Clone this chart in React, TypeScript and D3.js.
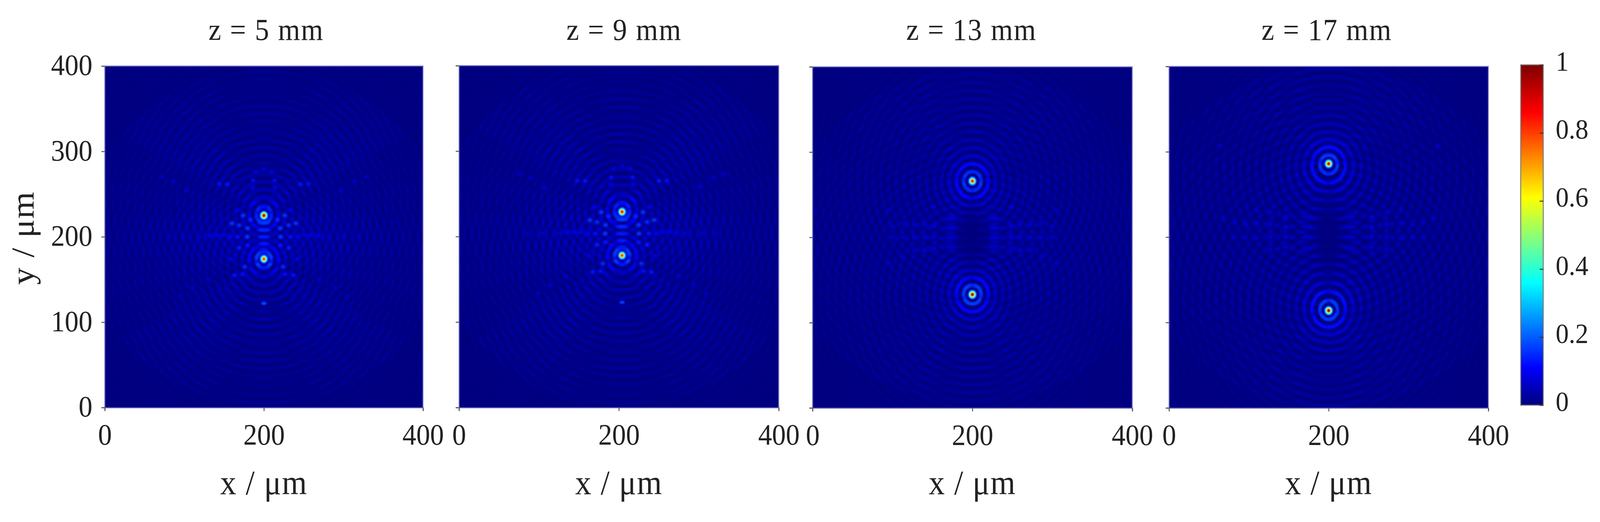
import React, { useEffect, useRef } from 'react';
import * as d3 from 'd3';

const titles = ['z = 5 mm', 'z = 9 mm', 'z = 13 mm', 'z = 17 mm'];
const yTicks = [0, 100, 200, 300, 400];
const xTicks = [0, 200, 400];
const barTicks = [0, 0.2, 0.4, 0.6, 0.8, 1];

// jet stops
const jetStops = [0, 0.11, 0.36, 0.61, 0.86, 1];
const jetColors = ['#00007f', '#0000ff', '#00ffff', '#ffff00', '#ff0000', '#7f0000'];

// focus centres [x, y, peak] in um
const foci5 = [[200, 225, 0.95], [200, 174, 0.8]];
const foci9 = [[204, 229, 0.85], [204, 178, 0.8]];
const foci13 = [[200, 266, 0.85], [200, 133, 0.95]];
const foci17 = [[200, 286, 0.92], [200, 114, 0.97]];

// rings around a focus [radius um, level]
const rings5 = [[9.5, 0.17], [18.5, 0.105], [27.5, 0.08], [36.5, 0.068], [45.5, 0.065], [54.5, 0.063], [63.5, 0.062], [72.5, 0.061], [81.5, 0.06], [90.5, 0.059], [99.5, 0.058], [108.5, 0.056], [117.5, 0.054], [126.5, 0.052], [135.5, 0.05], [144.5, 0.049], [153.5, 0.048], [162.5, 0.047], [171.5, 0.046], [180.5, 0.045], [189.5, 0.044], [198.5, 0.042], [207.5, 0.04], [216.5, 0.038], [225.5, 0.036], [234.5, 0.034], [243.5, 0.032]];
const rings9 = [[9.5, 0.17], [18.5, 0.105], [27.8, 0.08], [37, 0.068], [46.2, 0.065], [55.4, 0.063], [64.6, 0.062], [73.8, 0.061], [83, 0.06], [92.2, 0.059], [101.4, 0.058], [110.6, 0.056], [119.8, 0.054], [129, 0.052], [138.2, 0.05], [147.4, 0.049], [156.6, 0.048], [165.8, 0.047], [175, 0.046], [184.2, 0.045], [193.4, 0.044], [202.6, 0.042], [211.8, 0.04], [221, 0.038], [230.2, 0.036], [239.4, 0.034], [248.6, 0.032]];
const rings13 = [[11, 0.17], [20, 0.115], [29, 0.085], [38.5, 0.072], [47.5, 0.065], [57.5, 0.06], [67, 0.057], [76.5, 0.055], [86, 0.054], [95.5, 0.053], [105, 0.052], [114.5, 0.051], [124, 0.05], [133.5, 0.049], [143, 0.048], [152.5, 0.047], [162, 0.046], [171.5, 0.045], [181, 0.044], [190.5, 0.043], [200, 0.042], [209.5, 0.041], [219, 0.04], [228.5, 0.039], [238, 0.037], [247.5, 0.035], [257, 0.032]];
const rings17 = [[11, 0.17], [21, 0.12], [31, 0.09], [41, 0.075], [51, 0.068], [61, 0.062], [71, 0.058], [81, 0.056], [91, 0.055], [101, 0.054], [111, 0.053], [121, 0.052], [131, 0.05], [141, 0.049], [151, 0.048], [161, 0.047], [171, 0.046], [181, 0.045], [191, 0.044], [201, 0.043], [211, 0.042], [221, 0.041], [231, 0.04], [241, 0.038], [251, 0.035], [261, 0.032]];

// brightness of each 15 degree sector, counter-clockwise from +x for the upper focus
const gains5 = [0.85, 0.7, 1, 1, 0.85, 0.7, 0.8, 0.7, 0.85, 1, 1, 0.7, 0.85, 1, 1, 1, 0.9, 0.85, 0.9, 0.85, 0.9, 1, 1, 1];
const gains9 = [0.85, 0.7, 1, 1, 0.85, 0.7, 0.8, 0.7, 0.85, 1, 1, 0.7, 0.85, 1, 1, 1, 0.9, 0.85, 0.9, 0.85, 0.9, 1, 1, 1];
const gains13 = [0.95, 0.85, 0.95, 1, 1, 1, 1, 1, 1, 1, 0.95, 0.85, 0.95, 1, 1, 1, 1, 0.95, 0.8, 0.95, 1, 1, 1, 1];
const gains17 = [0.95, 0.85, 0.95, 1, 1, 1, 1, 1, 1, 1, 0.95, 0.85, 0.95, 1, 1, 1, 1, 0.95, 0.8, 0.95, 1, 1, 1, 1];

// how far rings lean away from the centre line, per um of radius
const drifts = [0.1, 0.1, 0, -0.08];

// where the bead pattern is centred in each panel [x, y]
const centres = [[200, 200], [204, 203.5], [200, 200], [200, 200]];

// bright beads, drawn on both sides of the centre [offset x, offset y, level]
const beadsNear = [
  [20.6, 10, 0.17], [21, 0, 0.17], [17, 20, 0.15], [26, 25, 0.17], [31, 13.5, 0.16], [40, 15.7, 0.17], [51, 2, 0.1], [60, 2, 0.11], [69, 1, 0.1],
  [33, 0, 0.12], [42, 0, 0.11], [80, 0, 0.075], [100, 0, 0.07], [118, 0, 0.06], [31, -13, 0.14], [20.6, -10, 0.13], [24, -35, 0.16], [41, -26, 0.1],
  [18, -27, 0.1], [27, -44, 0.12], [37, -45, 0.13], [46, 61.5, 0.13], [56, 62, 0.12], [13.5, 66, 0.12], [10, 76, 0.1], [14, 57.7, 0.1],
  [33.5, 31, 0.11], [97, 54, 0.075], [114, 65, 0.07], [128, 70, 0.065], [70, -50, 0.07], [90, -60, 0.07], [105, -70, 0.06], [0, 79, 0.08],
];
const beads13 = [
  [48, 35, 0.085], [48, 13, 0.09], [48, 0, 0.09], [60, 15, 0.085], [60, 0, 0.085], [73, 15, 0.08], [73, 0, 0.08], [86, 16, 0.075], [86, 0, 0.07],
  [100, 13, 0.07], [100, 0, 0.065], [48, -13, 0.085], [60, -15, 0.08], [73, -15, 0.075], [88, -22, 0.07], [105, -30, 0.065], [105, 32, 0.065],
];
const beads17 = [
  [54, 24, 0.09], [54, 12, 0.095], [54, 0, 0.09], [54, -12, 0.08], [73, 29, 0.08], [73, 15, 0.085], [73, 0, 0.08], [73, -14, 0.07], [90, 31, 0.07],
  [90, 16, 0.08], [90, -1, 0.07], [104, 15, 0.075], [104, 0, 0.07], [118, 17, 0.07], [118, 0, 0.065], [132, 22, 0.075], [136, 107, 0.07],
];

// flat bars across the middle [half width, offset y, level]
const barsNear = [[8, 16.5, 0.17], [8, 8, 0.15], [8, 0, 0.14], [7, -8, 0.13], [6, -15, 0.12]];
const bars13 = [[7, 22, 0.08], [7, 10.7, 0.08], [7, -0.5, 0.08], [7, -11, 0.07]];
const bars17 = [[8, 24, 0.07], [8, 12, 0.07], [8, 0, 0.065], [8, -13, 0.065]];

// faint side lobes [x, y, level] and dark areas [x, y, rx, ry]
const lobes5 = [[200, 122, 0.17]];
const lobes9 = [[204, 123, 0.16]];
const lobes13: number[][] = [];
const lobes17: number[][] = [];
const dark5: number[][] = [];
const dark9: number[][] = [];
const dark13 = [[200, 200, 18, 26]];
const dark17 = [[200, 200, 14, 30]];

// spot profile outer to inner [radius um, fraction of peak]
const spotRadii = [6, 5, 4.3, 3.6, 3, 2.4, 1.8];
const spotLevels = [0.14, 0.25, 0.36, 0.48, 0.62, 0.8, 1];

const panelData = [
  { title: titles[0], foci: foci5, rings: rings5, gains: gains5, drift: drifts[0], lobes: lobes5, dark: dark5, beads: beadsNear, bars: barsNear, centre: centres[0] },
  { title: titles[1], foci: foci9, rings: rings9, gains: gains9, drift: drifts[1], lobes: lobes9, dark: dark9, beads: beadsNear, bars: barsNear, centre: centres[1] },
  { title: titles[2], foci: foci13, rings: rings13, gains: gains13, drift: drifts[2], lobes: lobes13, dark: dark13, beads: beads13, bars: bars13, centre: centres[2] },
  { title: titles[3], foci: foci17, rings: rings17, gains: gains17, drift: drifts[3], lobes: lobes17, dark: dark17, beads: beads17, bars: bars17, centre: centres[3] },
];

const boxes = [
  { left: 288, right: 1163, top: 169, bottom: 1043, titleX: 732 },
  { left: 1262, right: 2141, top: 168, bottom: 1043, titleX: 1716 },
  { left: 2234, right: 3113, top: 171, bottom: 1044, titleX: 2671 },
  { left: 3214, right: 4092, top: 170, bottom: 1044, titleX: 3648 },
];

const WIDTH = 4399;
const HEIGHT = 1336;
const FONT = '"Liberation Serif", serif';
const TEXT = '#222';

const jet = d3.scaleLinear<string>().domain(jetStops).range(jetColors).clamp(true);
const alpha = d3.scaleLinear().domain([0, 0.11]).range([0, 1]).clamp(true);

const draw = (node: SVGSVGElement) => {
  const svg = d3.select(node);
  svg.selectAll('*').remove();
  const defs = svg.append('defs');

  defs
    .append('filter')
    .attr('id', 'soft')
    .attr('x', '-50%')
    .attr('y', '-50%')
    .attr('width', '200%')
    .attr('height', '200%')
    .append('feGaussianBlur')
    .attr('stdDeviation', 1.3);
  defs
    .append('filter')
    .attr('id', 'bead')
    .attr('x', '-80%')
    .attr('y', '-80%')
    .attr('width', '260%')
    .attr('height', '260%')
    .append('feGaussianBlur')
    .attr('stdDeviation', 2.6);
  defs
    .append('filter')
    .attr('id', 'patch')
    .attr('x', '-80%')
    .attr('y', '-80%')
    .attr('width', '260%')
    .attr('height', '260%')
    .append('feGaussianBlur')
    .attr('stdDeviation', 14);

  panelData.forEach((p, i) => {
    const box = boxes[i];
    const x = d3.scaleLinear().domain([0, 400]).range([box.left, box.right]);
    const y = d3.scaleLinear().domain([0, 400]).range([box.bottom, box.top]);
    const size = d3.scaleLinear().domain([0, 400]).range([0, box.right - box.left]);

    defs
      .append('clipPath')
      .attr('id', `clip${i}`)
      .append('rect')
      .attr('x', box.left)
      .attr('y', box.top)
      .attr('width', box.right - box.left)
      .attr('height', box.bottom - box.top);

    const filter = defs
      .append('filter')
      .attr('id', `ripple${i}`)
      .attr('filterUnits', 'userSpaceOnUse')
      .attr('color-interpolation-filters', 'sRGB')
      .attr('x', box.left)
      .attr('y', box.top)
      .attr('width', box.right - box.left)
      .attr('height', box.bottom - box.top);
    filter.append('feGaussianBlur').attr('stdDeviation', 2.2);
    filter
      .append('feComponentTransfer')
      .append('feFuncA')
      .attr('type', 'gamma')
      .attr('amplitude', 1)
      .attr('exponent', 3);

    const g = svg.append('g');
    const plot = g.append('g').attr('clip-path', `url(#clip${i})`);
    plot
      .append('rect')
      .attr('x', box.left)
      .attr('y', box.top)
      .attr('width', box.right - box.left)
      .attr('height', box.bottom - box.top)
      .attr('fill', jet(0));

    const ripple = plot.append('g').attr('filter', `url(#ripple${i})`);
    const arc = d3.arc();
    const step = (2 * Math.PI) / p.gains.length;
    p.foci.forEach(([fx, fy], k) => {
      const dir = k === 0 ? 1 : -1;
      p.rings.forEach(([r, level]) => {
        p.gains.forEach((gain, s) => {
          const theta = dir > 0 ? s * step : -s * step;
          const v = level * gain;
          ripple
            .append('path')
            .attr(
              'd',
              arc({
                innerRadius: size(r - 2.9),
                outerRadius: size(r + 2.9),
                startAngle: Math.PI / 2 - theta - step / 2,
                endAngle: Math.PI / 2 - theta + step / 2,
              }) as string,
            )
            .attr('transform', `translate(${x(fx)},${y(fy + dir * p.drift * r)})`)
            .attr('fill', jet(Math.max(v, 0.11)))
            .attr('fill-opacity', alpha(v));
        });
      });
    });

    plot
      .selectAll('ellipse.dark')
      .data(p.dark)
      .join('ellipse')
      .attr('cx', (d) => x(d[0]))
      .attr('cy', (d) => y(d[1]))
      .attr('rx', (d) => size(d[2]))
      .attr('ry', (d) => size(d[3]))
      .attr('fill', jet(0))
      .attr('filter', 'url(#patch)');

    const [cx, cy] = p.centre;
    const beads = plot.append('g').attr('filter', 'url(#bead)');
    [1, -1].forEach((side) => {
      p.beads.forEach(([dx, dy, level]) => {
        beads
          .append('ellipse')
          .attr('cx', x(cx + side * dx))
          .attr('cy', y(cy + dy))
          .attr('rx', size(2.8))
          .attr('ry', size(2.2))
          .attr('fill', jet(level));
      });
    });
    const farBars = i >= 2 ? [1, -1] : [0];
    farBars.forEach((side) => {
      p.bars.forEach(([half, dy, level]) => {
        beads
          .append('ellipse')
          .attr('cx', x(cx + side * 27))
          .attr('cy', y(cy + dy))
          .attr('rx', size(half))
          .attr('ry', size(1.9))
          .attr('fill', jet(level));
      });
    });

    plot
      .selectAll('ellipse.lobe')
      .data(p.lobes)
      .join('ellipse')
      .attr('class', 'lobe')
      .attr('cx', (d) => x(d[0]))
      .attr('cy', (d) => y(d[1]))
      .attr('rx', size(3.4))
      .attr('ry', size(2))
      .attr('fill', (d) => jet(d[2]))
      .attr('filter', 'url(#soft)');

    p.foci.forEach(([fx, fy, peak]) => {
      const spot = plot.append('g').attr('filter', 'url(#soft)');
      spotRadii.forEach((r, j) => {
        spot
          .append('circle')
          .attr('cx', x(fx))
          .attr('cy', y(fy))
          .attr('r', size(r))
          .attr('fill', jet(spotLevels[j] * peak));
      });
    });

    const axisLeft = g
      .append('g')
      .attr('transform', `translate(${box.left},0)`)
      .call(
        d3
          .axisLeft(y)
          .tickValues(yTicks)
          .tickSize(9)
          .tickFormat((d) => (i === 0 ? String(d) : '')),
      );
    const axisBottom = g
      .append('g')
      .attr('transform', `translate(0,${box.bottom})`)
      .call(d3.axisBottom(x).tickValues(xTicks).tickSize(9).tickPadding(32));
    [axisLeft, axisBottom].forEach((a) => {
      a.select('.domain').attr('stroke', '#5a5ab0').attr('stroke-width', 2.5);
      a.selectAll('.tick line').attr('stroke', '#555').attr('stroke-width', 2.5);
      a.selectAll('.tick text')
        .attr('font-family', FONT)
        .attr('font-size', 76)
        .attr('fill', TEXT);
    });
    axisLeft.selectAll('.tick text').attr('x', -34).attr('dy', '0.3em');

    g.append('path')
      .attr('d', `M${box.left},${box.top}H${box.right}V${box.bottom}`)
      .attr('fill', 'none')
      .attr('stroke', '#7a7ad0')
      .attr('stroke-width', 2.5);

    g.append('text')
      .attr('x', box.titleX)
      .attr('y', 102)
      .attr('text-anchor', 'middle')
      .attr('font-family', FONT)
      .attr('font-size', 78)
      .attr('letter-spacing', 2.5)
      .attr('fill', TEXT)
      .text(p.title);
    g.append('text')
      .attr('x', (box.left + box.right) / 2)
      .attr('y', 1265)
      .attr('text-anchor', 'middle')
      .attr('font-family', FONT)
      .attr('font-size', 88)
      .attr('letter-spacing', 2)
      .attr('fill', TEXT)
      .text('x / μm');
  });

  svg
    .append('text')
    .attr('transform', 'translate(92,609) rotate(-90)')
    .attr('text-anchor', 'middle')
    .attr('font-family', FONT)
    .attr('font-size', 88)
    .attr('letter-spacing', 2)
    .attr('fill', TEXT)
    .text('y / μm');

  // colour bar
  const barLeft = 4181;
  const barRight = 4243;
  const barY = d3.scaleLinear().domain([0, 1]).range([1037, 166]);
  const grad = defs
    .append('linearGradient')
    .attr('id', 'jet')
    .attr('x1', 0)
    .attr('x2', 0)
    .attr('y1', 1)
    .attr('y2', 0);
  jetStops.forEach((s, i) => {
    grad.append('stop').attr('offset', s).attr('stop-color', jetColors[i]);
  });
  svg
    .append('rect')
    .attr('x', barLeft)
    .attr('y', barY(1))
    .attr('width', barRight - barLeft)
    .attr('height', barY(0) - barY(1))
    .attr('fill', 'url(#jet)')
    .attr('stroke', '#777')
    .attr('stroke-width', 2.5);
  const barAxis = svg
    .append('g')
    .attr('transform', `translate(${barRight},0)`)
    .call(
      d3
        .axisRight(barY)
        .tickValues(barTicks)
        .tickSize(-10)
        .tickPadding(34)
        .tickFormat((d) => String(d)),
    );
  barAxis.select('.domain').remove();
  barAxis.selectAll('.tick line').attr('stroke', '#333').attr('stroke-width', 2.5);
  barAxis
    .selectAll('.tick text')
    .attr('font-family', FONT)
    .attr('font-size', 72)
    .attr('fill', TEXT)
    .attr('dy', '0.2em');
};

const App = () => {
  const ref = useRef<SVGSVGElement>(null);
  useEffect(() => {
    if (ref.current) {
      draw(ref.current);
    }
  }, []);
  // the window can be narrower than the reference, so the drawing is fitted to it
  return (
    <svg
      ref={ref}
      viewBox={`0 0 ${WIDTH} ${HEIGHT}`}
      preserveAspectRatio="none"
      style={{ position: 'absolute', left: 0, top: 0, width: '100vw', height: '100vh', background: '#fff' }}
    />
  );
};

export default App;
